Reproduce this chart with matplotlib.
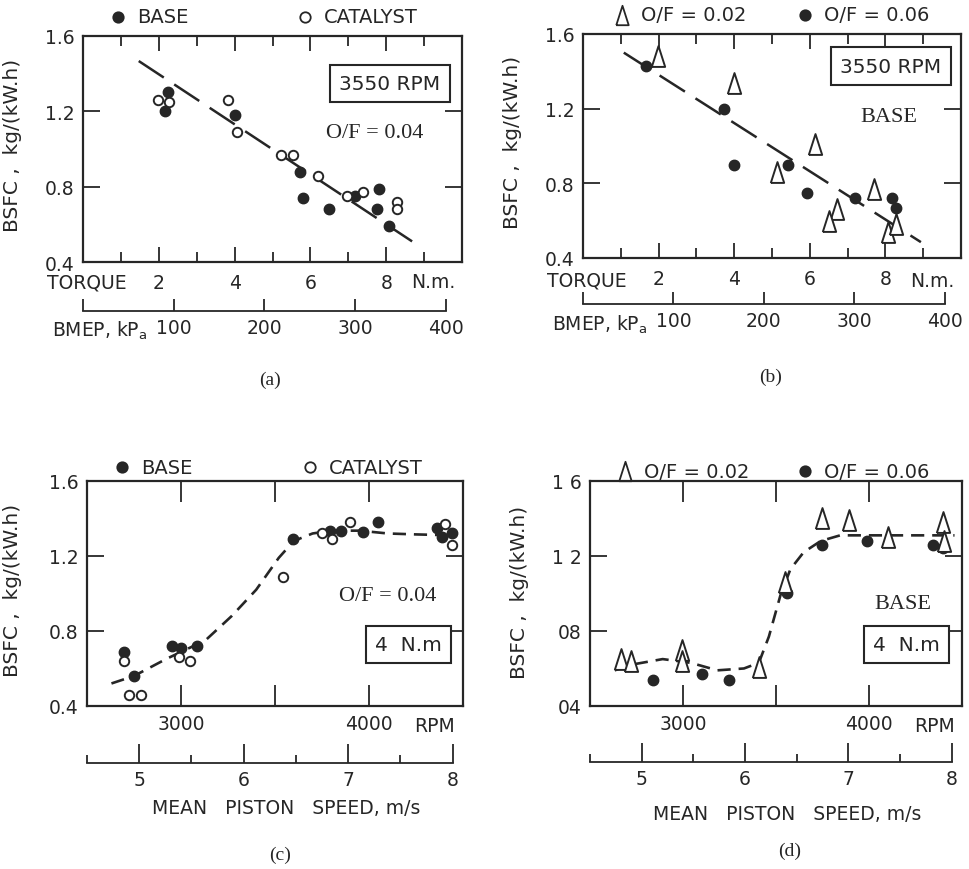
import matplotlib
matplotlib.use('Agg')
import matplotlib.pyplot as plt

INK = '#262626'
SERIF = 'Liberation Serif'

# (a) BSFC vs torque at 3550 rpm, O/F = 0.04
a_base_torque = [2.23, 2.15, 4.02, 5.72, 5.80, 6.50, 7.17, 7.80, 7.77, 8.08]
a_base_bsfc = [1.30, 1.20, 1.18, 0.88, 0.74, 0.68, 0.75, 0.79, 0.68, 0.59]
a_cat_torque = [1.97, 2.27, 3.83, 4.07, 5.22, 5.53, 6.20, 6.96, 7.38, 8.29, 8.29]
a_cat_bsfc = [1.26, 1.25, 1.26, 1.09, 0.97, 0.97, 0.855, 0.75, 0.77, 0.72, 0.68]
a_fit_torque = [1.47, 8.95]
a_fit_bsfc = [1.467, 0.474]

# (b) BSFC vs torque at 3550 rpm, base engine
b_of02_torque = [1.98, 4.00, 6.14, 5.13, 7.70, 6.72, 6.50, 8.07, 8.28]
b_of02_bsfc = [1.48, 1.34, 1.01, 0.86, 0.77, 0.66, 0.60, 0.54, 0.58]
b_of06_torque = [1.67, 3.73, 4.00, 5.43, 5.93, 7.20, 8.17, 8.28]
b_of06_bsfc = [1.43, 1.20, 0.90, 0.90, 0.75, 0.72, 0.72, 0.67]
b_fit_torque = [1.08, 8.94]
b_fit_bsfc = [1.50, 0.485]

# (c) BSFC vs speed at 4 N.m, O/F = 0.04
c_base_rpm = [2695, 2749, 2952, 3000, 3086, 3594, 3791, 3850, 3968, 4048, 4364, 4390, 4444]
c_base_bsfc = [0.69, 0.56, 0.72, 0.71, 0.72, 1.29, 1.335, 1.335, 1.33, 1.38, 1.35, 1.30, 1.32]
c_cat_rpm = [2695, 2722, 2786, 2990, 3048, 3545, 3749, 3802, 3898, 4406, 4444]
c_cat_bsfc = [0.64, 0.46, 0.46, 0.66, 0.64, 1.09, 1.32, 1.29, 1.38, 1.37, 1.26]
c_fit_rpm = [2630, 2750, 2920, 3130, 3270, 3400, 3520, 3600, 3700, 3800, 3950, 4100, 4250, 4450]
c_fit_bsfc = [0.52, 0.56, 0.65, 0.75, 0.88, 1.02, 1.19, 1.28, 1.32, 1.335, 1.335, 1.32, 1.315, 1.31]

# (d) BSFC vs speed at 4 N.m, base engine
d_of02_rpm = [2668, 2722, 2993, 2993, 3408, 3551, 3747, 3895, 4103, 4396, 4401]
d_of02_bsfc = [0.65, 0.64, 0.70, 0.64, 0.61, 1.06, 1.40, 1.39, 1.30, 1.38, 1.28]
d_of06_rpm = [2838, 3100, 3248, 3560, 3747, 3988, 4342, 4396]
d_of06_bsfc = [0.54, 0.57, 0.54, 1.00, 1.26, 1.28, 1.26, 1.24]
d_fit_rpm = [2633, 2722, 2891, 3043, 3185, 3328, 3408, 3462, 3524, 3578, 3649, 3741, 3845, 4000, 4200, 4460]
d_fit_bsfc = [0.59, 0.62, 0.65, 0.63, 0.59, 0.60, 0.63, 0.77, 0.99, 1.13, 1.22, 1.28, 1.31, 1.31, 1.31, 1.31]

bsfc_ticks = [0.4, 0.8, 1.2, 1.6]
bsfc_labels = ['0.4', '0.8', '1.2', '1.6']
bsfc_labels_d = ['04', '08', '1 2', '1 6']
torque_major = [2, 4, 6, 8]
torque_minor = [1, 3, 5, 7, 9]
bmep_ticks = [0, 100, 200, 300, 400]
bmep_labels = ['', '100', '200', '300', '400']
rpm_ticks = [3000, 3500, 4000]
rpm_labels = ['3000', '', '4000']
speed_major = [5, 6, 7, 8]
speed_minor = [4.5, 5.5, 6.5, 7.5]

KPA_PER_NM = 41.8
MS_PER_RPM = 0.0018

# tall narrow triangle like the hand drawn ones
TRI = [(-0.32, -0.5), (0.32, -0.5), (0.0, 0.5), (-0.32, -0.5)]

fs = 13.5
plt.rcParams['font.family'] = ['DejaVu Sans']
plt.rcParams['text.color'] = INK

fig = plt.figure(figsize=(9.7, 8.7), dpi=100)
fig.patch.set_facecolor('white')

axA = fig.add_axes([0.0856, 0.6977, 0.3907, 0.2598])
axB = fig.add_axes([0.6010, 0.7023, 0.3897, 0.2575])
axC = fig.add_axes([0.0897, 0.1874, 0.3876, 0.2586])
axD = fig.add_axes([0.6082, 0.1874, 0.3835, 0.2586])


def frame(ax, ylabs, ylab_x, ylab_y):
    ax.set_ylim(0.4, 1.6)
    ax.set_yticks(bsfc_ticks, ylabs)
    for s in ax.spines.values():
        s.set_linewidth(1.6)
        s.set_color(INK)
    ax.tick_params(which='both', direction='in', top=True, right=True,
                   colors=INK, width=1.3, labelsize=fs)
    ax.tick_params(axis='y', length=12, pad=6)
    ax.set_ylabel('BSFC ,  kg/(kW.h)', fontsize=14.5, color=INK)
    ax.yaxis.set_label_coords(ylab_x, ylab_y)


def torque_axis(ax, ylab_x, ylab_y, sec_y, name_y):
    frame(ax, bsfc_labels, ylab_x, ylab_y)
    ax.set_xlim(0, 10)
    ax.set_xticks(torque_major, [str(t) for t in torque_major])
    ax.set_xticks(torque_minor, minor=True)
    ax.tick_params(axis='x', which='major', length=11, pad=8)
    ax.tick_params(axis='x', which='minor', length=7)
    ax.text(0.01, name_y, 'TORQUE', transform=ax.transAxes, ha='center', va='center', fontsize=fs)
    ax.text(0.925, name_y, 'N.m.', transform=ax.transAxes, ha='center', va='center', fontsize=fs)
    sec = ax.secondary_xaxis(sec_y, functions=(lambda t: t * KPA_PER_NM, lambda p: p / KPA_PER_NM))
    sec.set_xticks(bmep_ticks, bmep_labels)
    sec.tick_params(direction='in', length=9, width=1.3, pad=5, colors=INK, labelsize=fs)
    sec.spines['bottom'].set_bounds(0, 400)
    sec.spines['bottom'].set_linewidth(1.3)
    sec.spines['bottom'].set_color(INK)
    ax.text(0.045, sec_y - 0.087, 'BMEP, kP$_\\mathregular{a}$', transform=ax.transAxes,
            ha='center', va='center', fontsize=fs)


def speed_axis(ax, ylabs, ylab_x, ylab_y, sec_y, title_y):
    frame(ax, ylabs, ylab_x, ylab_y)
    ax.set_xlim(2500, 4500)
    ax.set_xticks(rpm_ticks, rpm_labels)
    ax.tick_params(axis='x', length=15, pad=6)
    ax.text(0.925, -0.085, 'RPM', transform=ax.transAxes, ha='center', va='center', fontsize=fs)
    sec = ax.secondary_xaxis(sec_y, functions=(lambda r: r * MS_PER_RPM, lambda s: s / MS_PER_RPM))
    sec.set_xticks(speed_major, [str(s) for s in speed_major])
    sec.set_xticks(speed_minor, minor=True)
    sec.tick_params(which='major', direction='in', length=14, width=1.3, pad=5, colors=INK, labelsize=fs)
    sec.tick_params(which='minor', direction='in', length=6, width=1.3, colors=INK)
    sec.spines['bottom'].set_bounds(4.5, 8)
    sec.spines['bottom'].set_linewidth(1.3)
    sec.spines['bottom'].set_color(INK)
    ax.text(0.53, title_y, 'MEAN   PISTON   SPEED, m/s', transform=ax.transAxes,
            ha='center', va='center', fontsize=fs)


def key(ax, x, y, marker, filled, text):
    ax.plot([x], [y], transform=ax.transAxes, clip_on=False, linestyle='none',
            marker=marker, markersize=14 if marker is TRI else 7.5,
            markerfacecolor=INK if filled else 'white', markeredgecolor=INK, markeredgewidth=1.3)
    ax.text(x + 0.05, y, text, transform=ax.transAxes, ha='left', va='center', fontsize=14)


def boxed(ax, x, y, text):
    ax.text(x, y, text, transform=ax.transAxes, ha='center', va='center', fontsize=14.5,
            bbox=dict(boxstyle='square,pad=0.45', facecolor='white', edgecolor=INK, linewidth=1.5))


dot = dict(linestyle='none', marker='o', markersize=7.5, color=INK, zorder=3)
ring = dict(linestyle='none', marker='o', markersize=6.8, markerfacecolor='white',
            markeredgecolor=INK, markeredgewidth=1.4, zorder=3)
tri = dict(linestyle='none', marker=TRI, markersize=15, markerfacecolor='white',
           markeredgecolor=INK, markeredgewidth=1.4, zorder=3)

# (a)
torque_axis(axA, -0.16, 0.52, -0.215, -0.088)
axA.plot(a_fit_torque, a_fit_bsfc, color=INK, lw=1.8, dashes=(12, 5))
axA.plot(a_base_torque, a_base_bsfc, **dot)
axA.plot(a_cat_torque, a_cat_bsfc, **ring)
boxed(axA, 0.81, 0.788, '3550 RPM')
axA.text(0.77, 0.575, 'O/F = 0.04', transform=axA.transAxes, ha='center', va='center',
         fontsize=16, family=SERIF)
key(axA, 0.092, 1.084, 'o', True, 'BASE')
key(axA, 0.586, 1.084, 'o', False, 'CATALYST')

# (b)
torque_axis(axB, -0.16, 0.52, -0.205, -0.1)
axB.plot(b_fit_torque, b_fit_bsfc, color=INK, lw=1.8, dashes=(12, 5))
axB.plot(b_of06_torque, b_of06_bsfc, **dot)
axB.plot(b_of02_torque, b_of02_bsfc, **tri)
boxed(axB, 0.815, 0.857, '3550 RPM')
axB.text(0.81, 0.63, 'BASE', transform=axB.transAxes, ha='center', va='center',
         fontsize=16, family=SERIF)
key(axB, 0.103, 1.085, TRI, False, 'O/F = 0.02')
key(axB, 0.587, 1.085, 'o', True, 'O/F = 0.06')

# (c)
speed_axis(axC, bsfc_labels, -0.173, 0.52, -0.253, -0.45)
axC.plot(c_fit_rpm, c_fit_bsfc, color=INK, lw=1.9, dashes=(5, 3))
axC.plot(c_base_rpm, c_base_bsfc, **dot)
axC.plot(c_cat_rpm, c_cat_bsfc, **ring)
axC.text(0.80, 0.49, 'O/F = 0.04', transform=axC.transAxes, ha='center', va='center',
         fontsize=16, family=SERIF)
boxed(axC, 0.854, 0.275, '4  N.m')
key(axC, 0.093, 1.062, 'o', True, 'BASE')
key(axC, 0.593, 1.062, 'o', False, 'CATALYST')

# (d)
speed_axis(axD, bsfc_labels_d, -0.164, 0.51, -0.249, -0.48)
axD.plot(d_fit_rpm, d_fit_bsfc, color=INK, lw=1.9, dashes=(5, 3))
axD.plot(d_of06_rpm, d_of06_bsfc, **dot)
axD.plot(d_of02_rpm, d_of02_bsfc, **tri)
axD.text(0.84, 0.455, 'BASE', transform=axD.transAxes, ha='center', va='center',
         fontsize=16, family=SERIF)
boxed(axD, 0.85, 0.275, '4  N.m')
key(axD, 0.094, 1.044, TRI, False, 'O/F = 0.02')
key(axD, 0.578, 1.044, 'o', True, 'O/F = 0.06')

for x, y, t in [(0.278, 0.563, '(a)'), (0.794, 0.566, '(b)'),
                (0.289, 0.017, '(c)'), (0.814, 0.021, '(d)')]:
    fig.text(x, y, t, ha='center', va='center', fontsize=14, family=SERIF, color=INK)

fig.savefig('out.png', dpi=100)
